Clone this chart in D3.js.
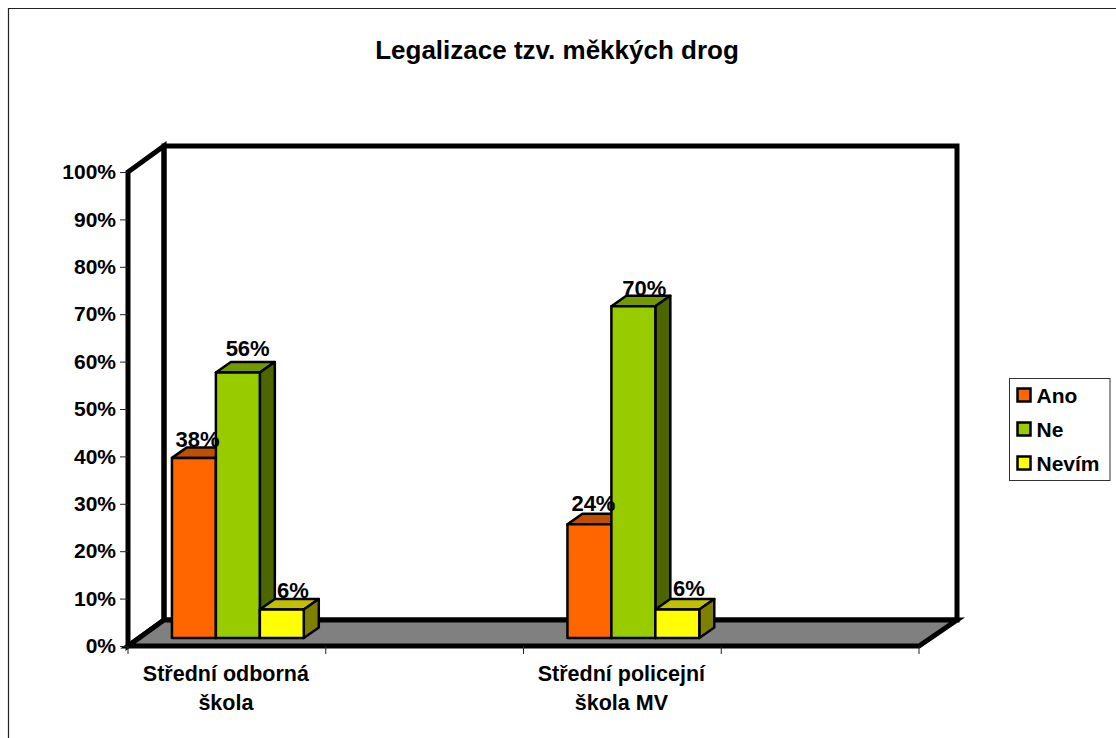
<!DOCTYPE html>
<html><head><meta charset="utf-8">
<style>html,body{margin:0;padding:0;background:#fff}svg{display:block}text{font-family:"Liberation Sans",Arial,sans-serif;font-weight:bold;fill:#000}</style>
<script src="https://cdn.jsdelivr.net/npm/d3@7"></script></head><body>
<svg id="c" width="1116" height="738"></svg>
<script>
const title = "Legalizace tzv. měkkých drog";
const categories = [["Střední odborná","škola"],[],["Střední policejní","škola MV"],[]];
const series = ["Ano","Ne","Nevím"];
const ano = [38,null,24,null];
const ne = [56,null,70,null];
const nevim = [6,null,6,null];
const tickValues = [0,10,20,30,40,50,60,70,80,90,100];
const colors = ["#FF6600","#99CC00","#FFFF00"];
const topColors = ["#C05000","#739900","#C0C000"];
const sideColors = ["#803300","#4D6600","#808000"];

const svg = d3.select("#c");
const left=128,right=919,y0=646,y100=172,dx3=36,dy3=26;
const y = d3.scaleLinear().domain([0,100]).range([y0,y100]);
const x = d3.scaleBand().domain(d3.range(categories.length)).range([left,right]);
const barW = x.bandwidth()*2/9;
const x1 = d3.scaleBand().domain(series).range([barW,barW*4]);
const baseOff=8, depthX=15, depthY=10.5;
// hand placement of the data labels as seen in the original (series, then category)
const labelDx=[[3.7,0,4],[9.8,0,11],[11,0,11.5]];
const labelDy=[[0,0,-3],[-6,0,0],[-1,0,-3]];

// outer chart border: left and top only, the picture is cut off at right and bottom
svg.append("path").attr("d",`M8.5,738V8.5H1116`).attr("fill","none").attr("stroke","#222").attr("stroke-width",1.2);

svg.append("text").attr("x",557).attr("y",59).attr("text-anchor","middle").attr("font-size",26).text(title);

// walls & floor
const wall={fill:"none",stroke:"#000","stroke-width":5,"stroke-linejoin":"miter"};
const P=(pts)=>"M"+pts.join("L")+"Z";
const sw=g=>{for(const k in wall)g.attr(k,wall[k]);return g};
sw(svg.append("path")).attr("d",P([[left+dx3,y100-dy3],[right+dx3+2,y100-dy3],[right+dx3+2,y0-dy3],[left+dx3,y0-dy3]]));
sw(svg.append("path")).attr("d",P([[left,y100],[left+dx3,y100-dy3],[left+dx3,y0-dy3],[left,y0]]));
sw(svg.append("path")).attr("fill","#808080").attr("d",P([[left,y0],[left+dx3,y0-dy3],[right+dx3+2,y0-dy3],[right,y0]]));

// axis ticks
const yAxis=d3.axisLeft(y).tickValues(tickValues).tickSize(8).tickPadding(4).tickFormat(d=>d+"%");
const gy=svg.append("g").attr("transform",`translate(${left},0)`).call(yAxis);
gy.select(".domain").remove();
gy.selectAll("line").attr("stroke","#222");
gy.selectAll("text").attr("font-size",21).style("fill","#000");
gy.attr("font-family",null).attr("font-size",null);

const xTicks=d3.range(categories.length+1).map(i=>left+i*x.step());
svg.append("g").selectAll("line").data(xTicks).join("line").attr("x1",d=>d).attr("x2",d=>d).attr("y1",y0).attr("y2",y0+8).attr("stroke","#222");
categories.forEach((lines,i)=>{
  lines.forEach((t,j)=>svg.append("text").attr("x",x(i)+x.bandwidth()/2-1).attr("y",681+j*28.5).attr("text-anchor","middle").attr("font-size",21.5).text(t));
});

// bars
const all=[ano,ne,nevim];
const barsG=svg.append("g"), labelsG=svg.append("g");
categories.forEach((_,ci)=>{
  series.forEach((s,si)=>{
    const v=all[si][ci]; if(v==null) return;
    const bx=x(ci)+x1(s), bw=x1.bandwidth(), top=y(v)-baseOff, bot=y0-baseOff;
    const g=barsG.append("g").attr("stroke","#000").attr("stroke-width",2.5).attr("stroke-linejoin","round");
    g.append("path").attr("fill",topColors[si]).attr("d",P([[bx,top],[bx+depthX,top-depthY],[bx+bw+depthX,top-depthY],[bx+bw,top]]));
    g.append("path").attr("fill",sideColors[si]).attr("d",P([[bx+bw,top],[bx+bw+depthX,top-depthY],[bx+bw+depthX,bot-depthY],[bx+bw,bot]]));
    g.append("rect").attr("x",bx).attr("y",top).attr("width",bw).attr("height",bot-top).attr("fill",colors[si]);
    labelsG.append("text").attr("x",bx+bw/2+labelDx[si][ci]).attr("y",top-depthY+labelDy[si][ci]).attr("text-anchor","middle").attr("font-size",22).text(v+"%");
  });
});

// legend
svg.append("rect").attr("x",1009.5).attr("y",378.5).attr("width",100.5).attr("height",102).attr("fill","#fff").attr("stroke","#333");
const ly=d3.scalePoint().domain(series).range([395,463]);
series.forEach((s,i)=>{
  svg.append("rect").attr("x",1017.5).attr("y",ly(s)-6.5).attr("width",13).attr("height",13).attr("fill",colors[i]).attr("stroke","#000").attr("stroke-width",2.5);
  svg.append("text").attr("x",1036.5).attr("y",ly(s)+7.5).attr("font-size",21).text(s);
});
</script></body></html>
